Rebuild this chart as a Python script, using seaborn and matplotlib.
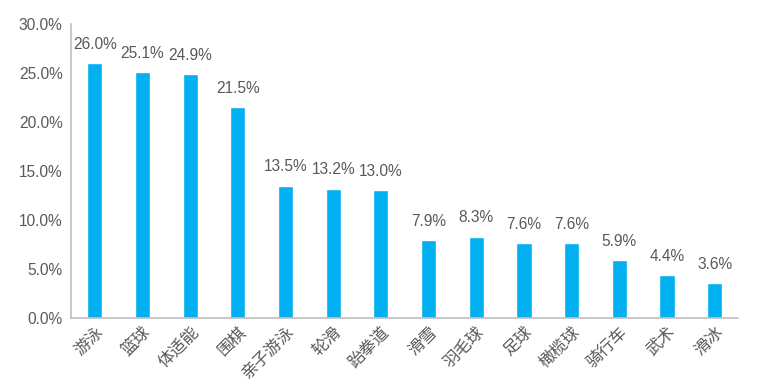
import pandas as pd
import matplotlib
matplotlib.use('Agg')
import matplotlib.pyplot as plt
import seaborn as sns
from matplotlib.ticker import FuncFormatter

# ── Data ──────────────────────────────────────────────
sports = ["游泳", "篮球", "体适能", "围棋", "亲子游泳", "轮滑", "跆拳道",
          "滑雪", "羽毛球", "足球", "橄榄球", "骑行车", "武术", "滑冰"]
shares = [26.0, 25.1, 24.9, 21.5, 13.5, 13.2, 13.0,
          7.9, 8.3, 7.6, 7.6, 5.9, 4.4, 3.6]
y_ticks = [0, 5, 10, 15, 20, 25, 30]

df = pd.DataFrame({"sport": sports, "share": shares})

sns.set_style("white")
plt.rcParams['font.family'] = ['Liberation Sans', 'Noto Sans CJK SC', 'DejaVu Sans']

GRAY = "#595959"

fig = plt.figure(figsize=(7.61, 3.84), dpi=100)
ax = fig.add_axes([0.0933, 0.172, 0.877, 0.766])

sns.barplot(data=df, x="sport", y="share", color="#00B0F0",
            width=0.32, saturation=1, ax=ax)

# value labels above each bar
for cont in ax.containers:
    ax.bar_label(cont, labels=[f"{v:.1f}%" for v in shares],
                 padding=8, fontsize=11.2, color=GRAY)

ax.set_ylim(0, 30)
ax.set_xlim(-0.5, len(sports) - 0.5)
ax.set_yticks(y_ticks)
ax.yaxis.set_major_formatter(FuncFormatter(lambda v, _: f"{v:.1f}%"))
ax.tick_params(axis='y', labelsize=11.2, colors=GRAY, length=0, pad=6)
ax.tick_params(axis='x', labelsize=12, colors=GRAY, length=0, pad=4)
ax.set_xticks(range(len(sports)))
ax.set_xticklabels(sports, rotation=45, ha='right', va='top',
                   rotation_mode='anchor', family=['Noto Sans CJK SC'])
ax.set_xlabel("")
ax.set_ylabel("")

for side in ["top", "right"]:
    ax.spines[side].set_visible(False)
for side in ["left", "bottom"]:
    ax.spines[side].set_color("#BFBFBF")
    ax.spines[side].set_linewidth(1.2)

plt.savefig("out.png", dpi=100)
plt.close()
